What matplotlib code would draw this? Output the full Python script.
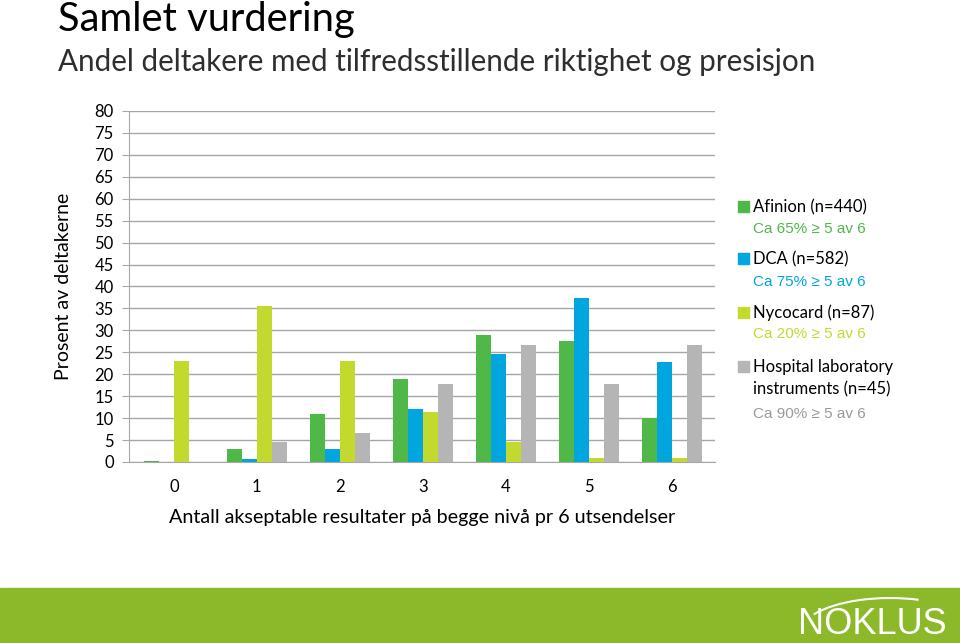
import matplotlib.pyplot as plt
import numpy as np
from matplotlib.patches import Rectangle, Arc

categories = [0, 1, 2, 3, 4, 5, 6]
afinion = [0.2, 3.0, 11.0, 19.0, 29.0, 27.5, 10.0]
dca = [0.0, 0.7, 3.0, 12.0, 24.5, 37.3, 22.7]
nycocard = [23.0, 35.5, 23.0, 11.5, 4.5, 1.0, 1.0]
hospital = [0.0, 4.5, 6.7, 17.8, 26.6, 17.8, 26.6]

series_names = ["Afinion (n=440)", "DCA (n=582)", "Nycocard (n=87)",
                "Hospital laboratory\ninstruments (n=45)"]
series_notes = ["Ca 65% \u2265 5 av 6", "Ca 75% \u2265 5 av 6",
                "Ca 20% \u2265 5 av 6", "Ca 90% \u2265 5 av 6"]
colors = ["#50b848", "#00a6dd", "#c4d92e", "#b5b5b5"]

plt.rcParams['font.family'] = ['Lato', 'DejaVu Sans']

fig = plt.figure(figsize=(9.6, 6.43), dpi=100)
ax = fig.add_axes([0.1344, 0.2815, 0.6104, 0.546])

x = np.arange(len(categories))
w = 0.18
for i, vals in enumerate([afinion, dca, nycocard, hospital]):
    ax.bar(x + (i - 1.5) * w, vals, w, color=colors[i], zorder=3)

ax.set_ylim(0, 80)
ax.set_xlim(-0.54, 6.52)
ax.set_yticks(range(0, 81, 5))
ax.set_xticks(x)
ax.set_xticklabels([str(c) for c in categories])
ax.yaxis.grid(True, color="#a6a6a6", linewidth=1, zorder=0)
for s in ["top", "right"]:
    ax.spines[s].set_visible(False)
ax.spines["left"].set_color("#a6a6a6")
ax.spines["bottom"].set_color("#a6a6a6")
ax.tick_params(axis="y", length=5, color="#a6a6a6", labelsize=12, pad=6)
ax.tick_params(axis="x", length=0, labelsize=12, pad=12)
ax.set_ylabel("Prosent av deltakerne", fontsize=14, labelpad=16)
ax.set_xlabel("Antall akseptable resultater på begge nivå pr 6 utsendelser", fontsize=14.25, labelpad=10)

fig.text(0.06, 1 - 20 / 643, "Samlet vurdering", fontsize=28.7, va="center", ha="left")
fig.text(0.06, 1 - 62 / 643, "Andel deltakere med tilfredsstillende riktighet og presisjon", fontsize=21.3,
         va="center", ha="left", color="#2e2e2e")

# legend
leg_y = [207, 259, 313, 378]
box_y = [207, 259, 313, 367]
note_y = [229, 282, 334, 414]
for i in range(4):
    fig.patches.append(Rectangle((738 / 960, 1 - (box_y[i] + 5) / 643), 11 / 960, 11 / 643,
                                 transform=fig.transFigure, color=colors[i]))
    fig.text(753 / 960, 1 - leg_y[i] / 643, series_names[i], fontsize=12, va="center", ha="left",
             linespacing=1.45)
    fig.text(753 / 960, 1 - note_y[i] / 643, series_notes[i], fontsize=11, va="center", ha="left",
             color=colors[i] if i != 3 else "#9a9a9a", family=["Liberation Sans", "DejaVu Sans"])

# footer band
fig.patches.append(Rectangle((0, 0), 1, 55 / 643, transform=fig.transFigure, color="#8cb92a"))
fig.text(872 / 960, 18 / 643, "NOKLUS", fontsize=26, color="white", ha="center", va="center",
         family=["Liberation Sans", "DejaVu Sans"])
fig.patches.append(Arc((890 / 960, 10 / 643), 180 / 960, 70 / 643, theta1=60, theta2=160,
                       transform=fig.transFigure, color="white", linewidth=1.5))

fig.savefig("out.png", dpi=100)
